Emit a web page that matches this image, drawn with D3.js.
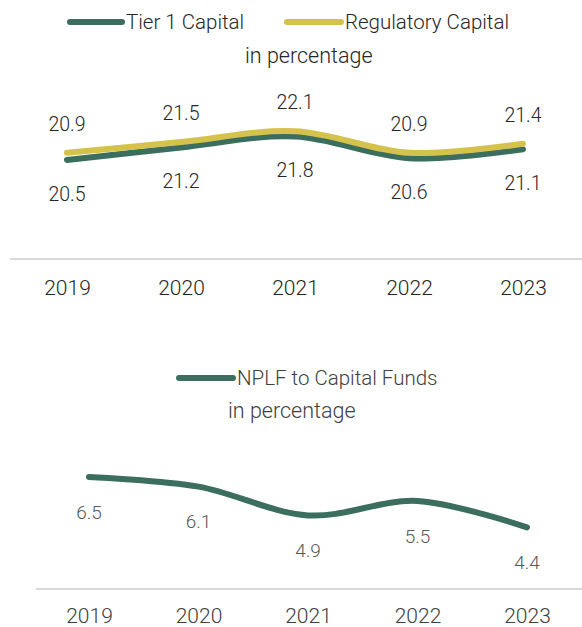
<!DOCTYPE html>
<html>
<head>
<meta charset="utf-8">
<script src="https://cdn.jsdelivr.net/npm/d3@7"></script>
<style>
  html, body { margin: 0; padding: 0; background: #ffffff; }
  svg { display: block; font-family: Roboto, "Open Sans", sans-serif; font-weight: 300; }
</style>
</head>
<body>
<svg id="chart" width="582" height="627"></svg>
<script>
// Capital adequacy figures, in percentage
const years = ["2019", "2020", "2021", "2022", "2023"];
const tier1Capital = [20.5, 21.2, 21.8, 20.6, 21.1];
const regulatoryCapital = [20.9, 21.5, 22.1, 20.9, 21.4];
const nplfToCapitalFunds = [6.5, 6.1, 4.9, 5.5, 4.4];

const legendTop = ["Tier 1 Capital", "Regulatory Capital"];
const legendBottom = ["NPLF to Capital Funds"];
const unitNote = "in percentage";

const GREEN = "#3b6e5f";
const YELLOW = "#d4c24c";
const AXIS = "#d9d9d9";

const svg = d3.select("#chart");
const smooth = d3.curveCardinal.tension(0);

function legendItem(g, x1, x2, y, color, label, textColor) {
  g.append("line")
    .attr("x1", x1).attr("x2", x2).attr("y1", y).attr("y2", y)
    .attr("stroke", color).attr("stroke-width", 6).attr("stroke-linecap", "round");
  g.append("text")
    .attr("x", x2 + 4).attr("y", y).attr("dy", "0.35em")
    .attr("font-size", 20.5).attr("fill", textColor)
    .text(label);
}

function yearAxis(g, x, y, lineFrom, padding, color) {
  g.append("line")
    .attr("x1", lineFrom).attr("x2", 582).attr("y1", y).attr("y2", y)
    .attr("stroke", AXIS).attr("stroke-width", 2);
  const ax = g.append("g")
    .attr("transform", `translate(0,${y})`)
    .call(d3.axisBottom(x).tickSize(0).tickPadding(padding));
  ax.select(".domain").remove();
  ax.selectAll("text")
    .attr("font-size", 21)
    .attr("font-family", "Roboto, 'Open Sans', sans-serif")
    .attr("font-weight", 300)
    .attr("fill", color);
}

// ---------- Capital ratios ----------
const capitalG = svg.append("g");
const xTop = d3.scalePoint().domain(years).range([67, 523]);
const yTop = d3.scaleLinear().domain([20.5, 21.5]).range([160, 142]);

legendItem(capitalG, 70, 122, 22, GREEN, legendTop[0], "#262626");
legendItem(capitalG, 287, 341, 22, YELLOW, legendTop[1], "#262626");
capitalG.append("text")
  .attr("x", 245).attr("y", 63)
  .attr("font-size", 21.5).attr("fill", "#262626")
  .text(unitNote);

const lineTop = values => d3.line()
  .x((d, i) => xTop(years[i]))
  .y(d => yTop(d))
  .curve(smooth)(values);

capitalG.append("path")
  .attr("d", lineTop(tier1Capital))
  .attr("fill", "none").attr("stroke", GREEN)
  .attr("stroke-width", 6).attr("stroke-linecap", "round");
capitalG.append("path")
  .attr("d", lineTop(regulatoryCapital))
  .attr("fill", "none").attr("stroke", YELLOW)
  .attr("stroke-width", 6).attr("stroke-linecap", "round");

capitalG.selectAll(".lbl-reg")
  .data(regulatoryCapital)
  .join("text")
  .attr("class", "lbl-reg")
  .attr("x", (d, i) => xTop(years[i]))
  .attr("y", d => yTop(d) - 29)
  .attr("dy", "0.35em")
  .attr("text-anchor", "middle")
  .attr("font-size", 19.5).attr("fill", "#262626")
  .text(d => d.toFixed(1));

capitalG.selectAll(".lbl-t1")
  .data(tier1Capital)
  .join("text")
  .attr("class", "lbl-t1")
  .attr("x", (d, i) => xTop(years[i]))
  .attr("y", d => yTop(d) + 34)
  .attr("dy", "0.35em")
  .attr("text-anchor", "middle")
  .attr("font-size", 19.5).attr("fill", "#262626")
  .text(d => d.toFixed(1));

yearAxis(capitalG, xTop, 259, 10, 21, "#262626");

// ---------- NPLF to capital funds ----------
const nplfG = svg.append("g");
const xBot = d3.scalePoint().domain(years).range([89, 527]);
const yBot = d3.scaleLinear().domain([4.4, 6.5]).range([527.4, 477]);

legendItem(nplfG, 179, 233, 378, GREEN, legendBottom[0], "#404040");
nplfG.append("text")
  .attr("x", 228).attr("y", 418)
  .attr("font-size", 21.5).attr("fill", "#404040")
  .text(unitNote);

nplfG.append("path")
  .attr("d", d3.line()
    .x((d, i) => xBot(years[i]))
    .y(d => yBot(d))
    .curve(smooth)(nplfToCapitalFunds))
  .attr("fill", "none").attr("stroke", GREEN)
  .attr("stroke-width", 6).attr("stroke-linecap", "round");

nplfG.selectAll(".lbl-nplf")
  .data(nplfToCapitalFunds)
  .join("text")
  .attr("class", "lbl-nplf")
  .attr("x", (d, i) => xBot(years[i]))
  .attr("y", d => yBot(d) + 35)
  .attr("dy", "0.35em")
  .attr("text-anchor", "middle")
  .attr("font-size", 19).attr("fill", "#595959")
  .text(d => d.toFixed(1));

yearAxis(nplfG, xBot, 589, 36, 19, "#404040");
</script>
</body>
</html>
